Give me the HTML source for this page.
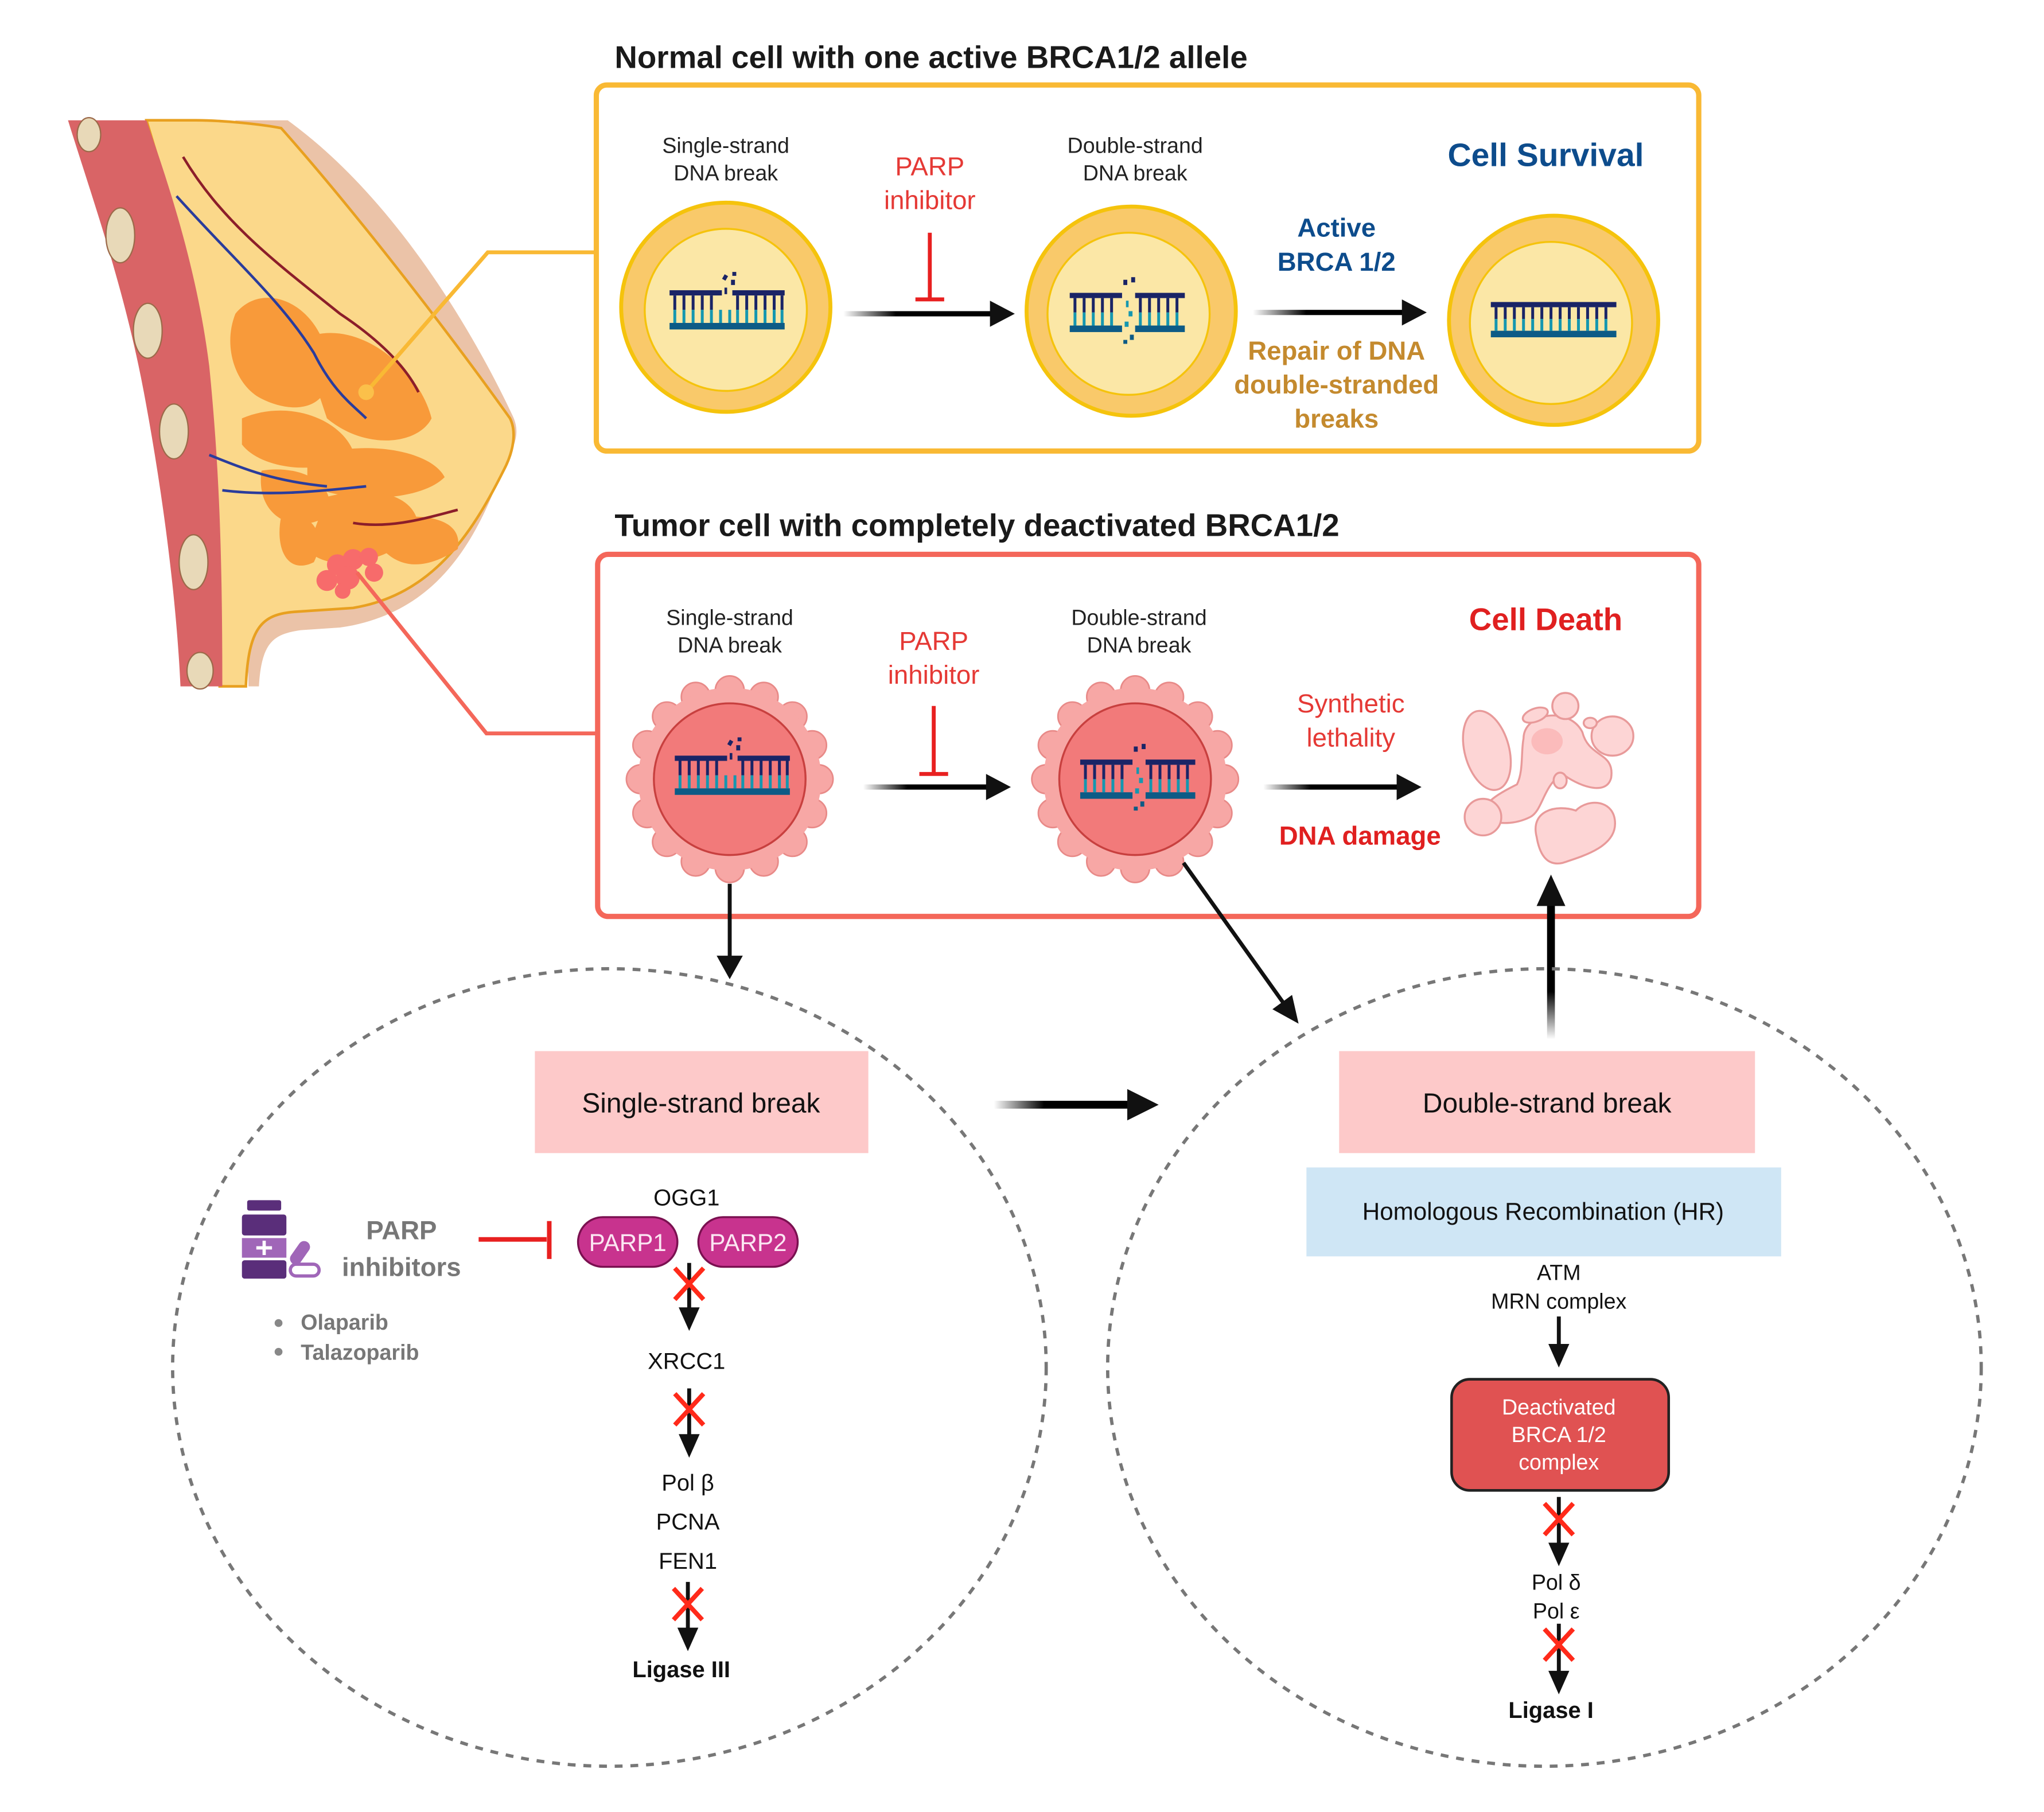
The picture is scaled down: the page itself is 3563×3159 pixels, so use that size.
<!DOCTYPE html>
<html><head><meta charset="utf-8"><style>
html,body{margin:0;padding:0;background:#fff;}
svg{display:block;}
text{font-family:"Liberation Sans",sans-serif;}
</style></head><body>
<svg width="3563" height="3159" viewBox="0 0 1563 1386" preserveAspectRatio="none" xmlns="http://www.w3.org/2000/svg">
<defs>
<linearGradient id="fade" x1="0" x2="1" y1="0" y2="0"><stop offset="0" stop-color="#000" stop-opacity="0"/><stop offset="0.35" stop-color="#000"/><stop offset="1" stop-color="#000"/></linearGradient>
<linearGradient id="fadeUp" x1="0" x2="0" y1="1" y2="0"><stop offset="0" stop-color="#000" stop-opacity="0"/><stop offset="0.35" stop-color="#000"/><stop offset="1" stop-color="#000"/></linearGradient>
<g id="dnaBroken">
 <rect x="-44" y="-14" width="40" height="4" fill="#1a2466"/>
 <rect x="4" y="-14" width="40" height="4" fill="#1a2466"/>
 <rect x="-44" y="11" width="88" height="5" fill="#0d5b86"/>
 <g stroke-width="2.2">
  <g stroke="#1a2466"><path d="M-40 -10V1M-33 -10V1M-26 -10V1M-19 -10V1M-12 -10V1M8 -10V1M15 -10V1M22 -10V1M29 -10V1M36 -10V1M42 -10V1"/></g>
  <g stroke="#1597b0"><path d="M-40 1V11M-33 1V11M-26 1V11M-19 1V11M-12 1V11M-5 1V11M2 1V11M8 1V11M15 1V11M22 1V11M29 1V11M36 1V11M42 1V11"/></g>
 </g>
 <g fill="#1a2466"><rect x="-3" y="-26" width="3" height="4" transform="rotate(30 -2 -24)"/><rect x="3" y="-22" width="3" height="4"/><rect x="-2" y="-16" width="2" height="5"/><rect x="4" y="-28" width="3" height="3"/></g>
</g>
<g id="dnaDouble">
 <rect x="-44" y="-14" width="40" height="4" fill="#1a2466"/>
 <rect x="6" y="-14" width="38" height="4" fill="#1a2466"/>
 <rect x="-44" y="11" width="40" height="5" fill="#0d5b86"/>
 <rect x="6" y="11" width="38" height="5" fill="#0d5b86"/>
 <g stroke-width="2.2">
  <g stroke="#1a2466"><path d="M-40 -10V1M-33 -10V1M-26 -10V1M-19 -10V1M-12 -10V1M10 -10V1M17 -10V1M24 -10V1M31 -10V1M38 -10V1"/></g>
  <g stroke="#1597b0"><path d="M-40 1V11M-33 1V11M-26 1V11M-19 1V11M-12 1V11M10 1V11M17 1V11M24 1V11M31 1V11M38 1V11"/></g>
 </g>
 <g fill="#1597b0"><rect x="-3" y="-24" width="3" height="4" fill="#1a2466"/><rect x="3" y="-26" width="3" height="4" fill="#1a2466"/><rect x="-1" y="-8" width="2" height="5"/><rect x="1" y="0" width="3" height="4"/><rect x="-2" y="8" width="3" height="4"/><rect x="2" y="18" width="3" height="4" fill="#0d5b86"/><rect x="-3" y="22" width="3" height="3" fill="#0d5b86"/></g>
</g>
<g id="tumor">
 <g fill="#F7A7A5" stroke="#E88A88" stroke-width="1.2">
  <circle cx="0" cy="-68" r="11"/><circle cx="26" cy="-63" r="11"/><circle cx="48" cy="-48" r="11"/><circle cx="63" cy="-26" r="11"/><circle cx="68" cy="0" r="11"/><circle cx="63" cy="26" r="11"/><circle cx="48" cy="48" r="11"/><circle cx="26" cy="63" r="11"/><circle cx="0" cy="68" r="11"/><circle cx="-26" cy="63" r="11"/><circle cx="-48" cy="48" r="11"/><circle cx="-63" cy="26" r="11"/><circle cx="-68" cy="0" r="11"/><circle cx="-63" cy="-26" r="11"/><circle cx="-48" cy="-48" r="11"/><circle cx="-26" cy="-63" r="11"/>
 </g>
 <circle r="70" fill="#F7A7A5"/>
 <circle r="58" fill="#F27A7A" stroke="#C8403F" stroke-width="1.5"/>
</g>
</defs>

<!-- Breast illustration -->
<g>
 <path d="M220 92 C300 150 360 250 392 318 C400 335 390 345 380 370 C360 420 330 470 260 480 L230 482 C210 485 200 490 198 525 L190 525 L180 92 Z" fill="#EBC3A8"/>
 <path d="M112 92 L150 92 C170 92 200 95 215 98 C270 160 340 250 390 320 C395 330 393 345 385 360 C360 410 330 455 270 465 L225 468 C200 470 190 480 188 525 L168 525 L168 460 C168 400 160 300 150 240 C140 180 120 120 112 92 Z" fill="#FBD88A" stroke="#E8A020" stroke-width="2"/>
 <path d="M52 92 L112 92 C125 130 150 200 160 280 C168 360 170 430 170 525 L138 525 C135 460 125 380 110 300 C95 220 70 150 52 92 Z" fill="#D96466"/>
 <g fill="#E8D9B8" stroke="#9c6a4a" stroke-width="1"><ellipse cx="68" cy="103" rx="9" ry="13"/><ellipse cx="92" cy="180" rx="11" ry="21"/><ellipse cx="113" cy="253" rx="11" ry="21"/><ellipse cx="133" cy="330" rx="11" ry="21"/><ellipse cx="148" cy="430" rx="11" ry="21"/><ellipse cx="153" cy="513" rx="10" ry="14"/></g>
 <g fill="#F89A3A"><path d="M180 240 C200 215 240 230 250 270 C260 310 230 320 200 305 C180 295 170 265 180 240Z"/><path d="M230 260 C270 240 320 280 330 320 C320 340 280 345 250 320Z"/><path d="M185 320 C220 305 260 320 270 345 C250 365 200 360 185 340Z"/><path d="M235 350 C280 335 330 345 340 365 C320 385 260 385 235 370Z"/><path d="M200 360 C230 355 260 370 250 395 C225 410 195 395 200 360Z"/><path d="M250 380 C290 370 320 380 320 405 C300 430 250 440 235 420Z"/><path d="M280 400 C320 390 355 395 350 420 C320 440 295 435 280 400Z"/><path d="M215 395 C240 390 250 410 240 430 C220 440 210 420 215 395Z"/></g>
 <g fill="#F76B6B"><circle cx="258" cy="432" r="8"/><circle cx="270" cy="428" r="8"/><circle cx="282" cy="426" r="7"/><circle cx="250" cy="444" r="8"/><circle cx="266" cy="442" r="9"/><circle cx="286" cy="438" r="7"/><circle cx="262" cy="452" r="6"/></g>
 <g fill="none" stroke-width="2"><path d="M140 120 C170 170 210 200 260 240 C290 260 310 280 320 300" stroke="#8C1E2A"/><path d="M135 150 C180 200 215 230 240 270 C255 300 270 310 280 320" stroke="#2A3C9C"/><path d="M160 348 C190 360 210 368 250 372" stroke="#2A3C9C"/><path d="M170 375 C210 380 250 375 280 372" stroke="#2A3C9C"/><path d="M270 400 C300 405 330 395 350 390" stroke="#8C1E2A"/></g>
</g>
<polyline points="280,300 373,193 455,193" fill="none" stroke="#F9B934" stroke-width="3"/>
<circle cx="280" cy="300" r="6" fill="#FBC04A"/>
<polyline points="273,438 372,561 457,561" fill="none" stroke="#F4675A" stroke-width="3"/>

<!-- Normal cell box -->
<text x="470" y="52" font-size="24" font-weight="bold" fill="#1a1a1a">Normal cell with one active BRCA1/2 allele</text>
<rect x="456" y="65" width="843" height="280" rx="8" fill="none" stroke="#F9B934" stroke-width="4"/>
<g font-size="16.5" fill="#222" text-anchor="middle"><text x="555" y="117">Single-strand</text><text x="555" y="138">DNA break</text><text x="868" y="117">Double-strand</text><text x="868" y="138">DNA break</text></g>
<g font-size="20" fill="#E53935" text-anchor="middle"><text x="711" y="134">PARP</text><text x="711" y="160">inhibitor</text></g>
<path d="M711 178V229M700 229H722" stroke="#E82020" stroke-width="3" fill="none"/>
<rect x="645" y="238" width="115" height="4" fill="url(#fade)"/><polygon points="757,230 776,240 757,250" fill="#111"/>
<circle cx="555" cy="235" r="80" fill="#F9C96A" stroke="#F5C30C" stroke-width="3"/><circle cx="555" cy="237" r="62" fill="#FBE7A6" stroke="#F5C30C" stroke-width="1.5"/>
<use href="#dnaBroken" x="556" y="236"/>
<circle cx="865" cy="238" r="80" fill="#F9C96A" stroke="#F5C30C" stroke-width="3"/><circle cx="863" cy="240" r="62" fill="#FBE7A6" stroke="#F5C30C" stroke-width="1.5"/>
<use href="#dnaDouble" x="862" y="238"/>
<text x="1182" y="127" font-size="25" font-weight="bold" fill="#0D4C8C" text-anchor="middle">Cell Survival</text>
<g font-size="20" font-weight="bold" fill="#0D4C8C" text-anchor="middle"><text x="1022" y="181">Active</text><text x="1022" y="207">BRCA 1/2</text></g>
<rect x="958" y="237" width="117" height="4" fill="url(#fade)"/><polygon points="1072,229 1091,239 1072,249" fill="#111"/>
<g font-size="20" font-weight="bold" fill="#C48A2E" text-anchor="middle"><text x="1022" y="275">Repair of DNA</text><text x="1022" y="301">double-stranded</text><text x="1022" y="327">breaks</text></g>
<circle cx="1188" cy="245" r="80" fill="#F9C96A" stroke="#F5C30C" stroke-width="3"/><circle cx="1186" cy="247" r="62" fill="#FBE7A6" stroke="#F5C30C" stroke-width="1.5"/>
<g transform="translate(1188 243)"><rect x="-48" y="-12" width="96" height="4" fill="#1a2466"/><rect x="-48" y="10" width="96" height="5" fill="#0d5b86"/><path d="M-44 -8V1M-37 -8V1M-30 -8V1M-23 -8V1M-16 -8V1M-9 -8V1M-2 -8V1M5 -8V1M12 -8V1M19 -8V1M26 -8V1M33 -8V1M40 -8V1" stroke="#1a2466" stroke-width="2.2"/><path d="M-44 1V10M-37 1V10M-30 1V10M-23 1V10M-16 1V10M-9 1V10M-2 1V10M5 1V10M12 1V10M19 1V10M26 1V10M33 1V10M40 1V10" stroke="#1597b0" stroke-width="2.2"/></g>

<!-- Tumor cell box -->
<text x="470" y="410" font-size="24" font-weight="bold" fill="#1a1a1a">Tumor cell with completely deactivated BRCA1/2</text>
<rect x="457" y="424" width="842" height="277" rx="8" fill="none" stroke="#F4675A" stroke-width="4"/>
<g font-size="16.5" fill="#222" text-anchor="middle"><text x="558" y="478">Single-strand</text><text x="558" y="499">DNA break</text><text x="871" y="478">Double-strand</text><text x="871" y="499">DNA break</text></g>
<g font-size="20" fill="#E53935" text-anchor="middle"><text x="714" y="497">PARP</text><text x="714" y="523">inhibitor</text></g>
<path d="M714 540V592M703 592H725" stroke="#E82020" stroke-width="3" fill="none"/>
<rect x="660" y="600" width="97" height="4" fill="url(#fade)"/><polygon points="754,592 773,602 754,612" fill="#111"/>
<use href="#tumor" x="558" y="596"/><use href="#dnaBroken" x="560" y="592"/>
<use href="#tumor" x="868" y="596"/><use href="#dnaDouble" x="870" y="595"/>
<g font-size="20" fill="#E53935" text-anchor="middle"><text x="1033" y="545">Synthetic</text><text x="1033" y="571">lethality</text></g>
<rect x="966" y="600" width="104" height="4" fill="url(#fade)"/><polygon points="1068,592 1087,602 1068,612" fill="#111"/>
<text x="1040" y="646" font-size="20" font-weight="bold" fill="#E02020" text-anchor="middle">DNA damage</text>
<text x="1182" y="482" font-size="24" font-weight="bold" fill="#E02020" text-anchor="middle">Cell Death</text>
<g fill="#FDD5D5" stroke="#E89A9A" stroke-width="1.5">
 <ellipse cx="1137" cy="574" rx="17" ry="31" transform="rotate(-15 1137 574)"/>
 <path d="M1165 565 C1165 545 1200 540 1210 560 C1215 580 1235 575 1232 595 C1228 610 1205 600 1195 592 C1180 600 1180 620 1170 625 C1160 630 1145 632 1135 625 C1130 615 1150 605 1160 600 C1165 590 1163 575 1165 565Z"/>
 <ellipse cx="1233" cy="563" rx="16" ry="15"/>
 <ellipse cx="1197" cy="540" rx="10" ry="10"/>
 <ellipse cx="1216" cy="553" rx="5" ry="4"/>
 <ellipse cx="1174" cy="547" rx="10" ry="5" transform="rotate(-20 1174 547)"/>
 <ellipse cx="1134" cy="625" rx="14" ry="14"/>
 <path d="M1175 640 C1170 620 1190 615 1205 620 C1215 610 1235 612 1235 630 C1235 648 1210 655 1195 660 C1182 663 1177 652 1175 640Z"/>
 <ellipse cx="1193" cy="597" rx="5" ry="6"/>
 <ellipse cx="1183" cy="567" rx="12" ry="10" fill="#FBBBBB" stroke="none"/>
</g>

<path d="M558 676V735" stroke="#111" stroke-width="3"/><polygon points="548,731 558,749 568,731" fill="#111"/>
<path d="M905 660L982 768" stroke="#111" stroke-width="3"/><polygon points="973,772 993,783 988,761" fill="#111"/>
<rect x="1183" y="690" width="6" height="105" fill="url(#fadeUp)"/><polygon points="1175,693 1186,669 1197,693" fill="#111"/>

<ellipse cx="466" cy="1046" rx="334" ry="305" fill="none" stroke="#777" stroke-width="2.5" stroke-dasharray="6 6"/>
<ellipse cx="1181" cy="1046" rx="334" ry="305" fill="none" stroke="#777" stroke-width="2.5" stroke-dasharray="6 6"/>

<rect x="409" y="804" width="255" height="78" fill="#FDC9C9"/>
<text x="536" y="851" font-size="21" fill="#111" text-anchor="middle">Single-strand break</text>
<rect x="760" y="842" width="110" height="6" fill="url(#fade)"/><polygon points="862,833 886,845 862,857" fill="#111"/>
<g transform="translate(185 918)"><rect x="4" y="0" width="26" height="8" rx="1.5" fill="#5A2E7A"/><rect x="0" y="11" width="34" height="16" rx="2" fill="#5A2E7A"/><rect x="0" y="29" width="34" height="15" fill="#A066B8"/><rect x="0" y="46" width="34" height="14" rx="2" fill="#5A2E7A"/><path d="M17 31V42M11 36.5H23" stroke="#fff" stroke-width="2.5"/><rect x="40" y="30" width="9" height="20" rx="4.5" fill="#A066B8" transform="rotate(35 44 40)"/><rect x="37" y="49" width="22" height="9" rx="4.5" fill="#fff" stroke="#A066B8" stroke-width="2.5"/></g>
<g font-size="20" font-weight="bold" fill="#777" text-anchor="middle"><text x="307" y="948">PARP</text><text x="307" y="976">inhibitors</text></g>
<g font-size="16.5" font-weight="bold" fill="#777"><circle cx="213" cy="1012" r="3" fill="#888"/><circle cx="213" cy="1034" r="3" fill="#888"/><text x="230" y="1017">Olaparib</text><text x="230" y="1040">Talazoparib</text></g>
<path d="M366 948H418M420 934V963" stroke="#E82020" stroke-width="3.5" fill="none"/>
<text x="525" y="922" font-size="17.5" fill="#111" text-anchor="middle">OGG1</text>
<rect x="442" y="931" width="76" height="38" rx="19" fill="#C8338E" stroke="#7A1050" stroke-width="1.5"/>
<rect x="534" y="931" width="76" height="38" rx="19" fill="#C8338E" stroke="#7A1050" stroke-width="1.5"/>
<g font-size="18.5" fill="#fbe6f2" text-anchor="middle"><text x="480" y="957">PARP1</text><text x="572" y="957">PARP2</text></g>
<g stroke="#111" stroke-width="3"><path d="M527 966V1004M527 1062V1100M526 1210V1248M1192 1007V1031M1192 1145V1182M1192 1242V1280"/></g>
<g fill="#111"><polygon points="519,1000 527,1018 535,1000"/><polygon points="519,1097 527,1115 535,1097"/><polygon points="518,1245 526,1263 534,1245"/><polygon points="1184,1028 1192,1046 1200,1028"/><polygon points="1184,1180 1192,1198 1200,1180"/><polygon points="1184,1278 1192,1296 1200,1278"/></g>
<g stroke="#FF2A1A" stroke-width="3.5"><path d="M516 970L538 994M538 970L516 994M516 1066L538 1090M538 1066L516 1090M515 1215L537 1239M537 1215L515 1239M1181 1150L1203 1174M1203 1150L1181 1174M1181 1246L1203 1270M1203 1246L1181 1270"/></g>
<g font-size="17.5" fill="#111" text-anchor="middle"><text x="525" y="1047">XRCC1</text><text x="526" y="1140">Pol β</text><text x="526" y="1170">PCNA</text><text x="526" y="1200">FEN1</text></g>
<text x="521" y="1283" font-size="17.5" font-weight="bold" fill="#111" text-anchor="middle">Ligase III</text>

<rect x="1024" y="804" width="318" height="78" fill="#FDC9C9"/>
<text x="1183" y="851" font-size="21" fill="#111" text-anchor="middle">Double-strand break</text>
<rect x="999" y="893" width="363" height="68" fill="#CFE6F5"/>
<text x="1180" y="933" font-size="18.5" fill="#111" text-anchor="middle">Homologous Recombination (HR)</text>
<g font-size="16.5" fill="#111" text-anchor="middle"><text x="1192" y="979">ATM</text><text x="1192" y="1001">MRN complex</text><text x="1190" y="1216">Pol δ</text><text x="1190" y="1238">Pol ε</text></g>
<rect x="1110" y="1055" width="166" height="85" rx="14" fill="#E05252" stroke="#222" stroke-width="2"/>
<g font-size="16.5" fill="#fff" text-anchor="middle"><text x="1192" y="1082">Deactivated</text><text x="1192" y="1103">BRCA 1/2</text><text x="1192" y="1124">complex</text></g>
<text x="1186" y="1314" font-size="17.5" font-weight="bold" fill="#111" text-anchor="middle">Ligase I</text>
</svg>
</body></html>
